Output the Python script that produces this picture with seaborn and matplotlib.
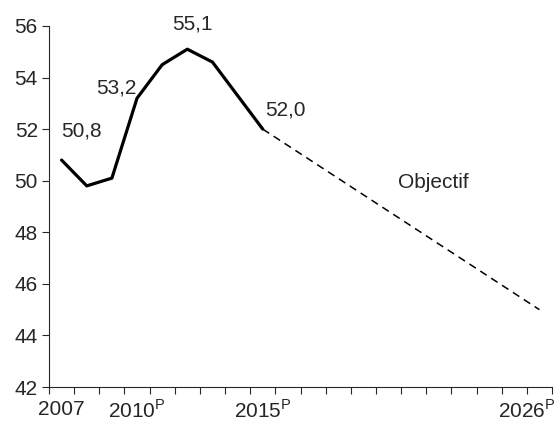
import matplotlib
matplotlib.use("Agg")
import matplotlib.pyplot as plt
import matplotlib.transforms as mtransforms
import seaborn as sns
import pandas as pd

# ------------------ Data ------------------
years = [2007, 2008, 2009, 2010, 2011, 2012, 2013, 2014, 2015]
values = [50.8, 49.8, 50.1, 53.2, 54.5, 55.1, 54.6, 53.3, 52.0]

target_years = [2015, 2026]
target_values = [52.0, 45.0]

labelled = {2007: "50,8", 2010: "53,2", 2012: "55,1", 2015: "52,0"}
tick_years = [2007, 2010, 2015, 2026]
tick_labels = ["2007", "2010$^{\\mathregular{P}}$", "2015$^{\\mathregular{P}}$", "2026$^{\\mathregular{P}}$"]

# ------------------ Style ------------------
sns.set_style("ticks")
plt.rcParams["font.family"] = ["Liberation Sans", "DejaVu Sans"]
fs = 15

df = pd.DataFrame({"year": years, "value": values})
df_target = pd.DataFrame({"year": target_years, "value": target_values})

fig = plt.figure(figsize=(5.57, 4.26), dpi=100)
ax = fig.add_axes([0.088, 0.0915, 0.903, 0.8475])

sns.lineplot(data=df, x="year", y="value", ax=ax, color="black", linewidth=2.3)
sns.lineplot(data=df_target, x="year", y="value", ax=ax, color="black",
             linewidth=1.1, dashes=False)
ax.lines[-1].set_linestyle((0, (5, 3.5)))

# value labels
offsets = {2007: (14, 21), 2010: (-15, 7), 2012: (4, 18), 2015: (16, 14)}
for yr, txt in labelled.items():
    v = values[years.index(yr)]
    ax.annotate(txt, (yr, v), xytext=offsets[yr], textcoords="offset points",
                ha="center", va="center", fontsize=fs)

ax.text(2021.8, 49.95, "Objectif", ha="center", va="center", fontsize=fs)

# ------------------ Axes ------------------
ax.set_xlim(2006.5, 2026.5)
ax.set_ylim(42, 56)
ax.set_yticks(range(42, 57, 2))
ax.set_xticks(tick_years)
ax.set_xticklabels(tick_labels)
ax.set_xticks([y + 0.5 for y in range(2006, 2027)], minor=True)
ax.tick_params(axis="x", which="major", length=0, pad=9, labelsize=fs)
ax.tick_params(axis="x", which="minor", length=5, width=0.8, direction="out")
ax.tick_params(axis="y", length=5, width=0.8, labelsize=fs, pad=3)
ax.set_xlabel("")
ax.set_ylabel("")

# last label shifted left so it stays inside the figure
last = ax.get_xticklabels()[-1]
last.set_transform(last.get_transform() + mtransforms.ScaledTranslation(-13 / 100, 0, fig.dpi_scale_trans))

for s in ["top", "right"]:
    ax.spines[s].set_visible(False)
for s in ["left", "bottom"]:
    ax.spines[s].set_linewidth(0.8)

fig.savefig("out.png", dpi=100)
